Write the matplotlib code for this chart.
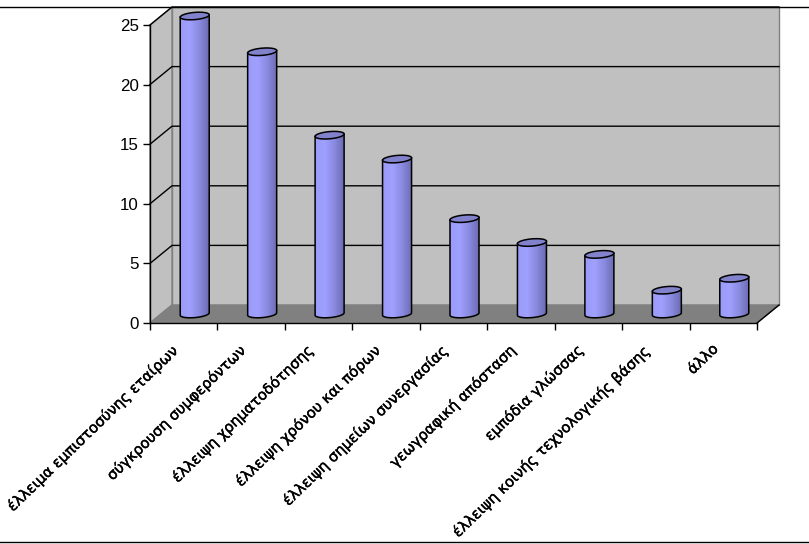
import numpy as np
import matplotlib
matplotlib.use('Agg')
import matplotlib.pyplot as plt
import matplotlib.patheffects as pe
from matplotlib.patches import Polygon

categories = ['έλλειμα εμπιστοσύνης εταίρων', 'σύγκρουση συμφερόντων', 'έλλειψη χρηματοδότησης',
              'έλλειψη χρόνου και πόρων', 'έλλειψη σημείων συνεργασίας', 'γεωγραφική απόσταση',
              'εμπόδια γλώσσας', 'έλλειψη κοινής τεχνολογικής βάσης', 'άλλο']
values = [25, 22, 15, 13, 8, 6, 5, 2, 3]
yticks = [0, 5, 10, 15, 20, 25]

W, H = 809, 544
fig = plt.figure(figsize=(W / 100, H / 100), dpi=100)
# front plane of the fake 3d box, in pixels: x 150-757, y 25-323
ax = fig.add_axes([150 / W, 1 - 323 / H, 607 / W, 298 / H])
ax.set_xlim(0, 9)
ax.set_ylim(0, 25)
for s in ax.spines.values():
    s.set_visible(False)
ax.patch.set_visible(False)


def px_x(p):
    return p * 9 / 607


def px_y(p):
    return p * 25 / 298


# depth of the box in data units
dx = px_x(22)
dy = px_y(18)

# walls
ax.add_patch(Polygon([(dx, dy), (9 + dx, dy), (9 + dx, 25 + dy), (dx, 25 + dy)], fc='#c0c0c0', ec='#808080', lw=1, clip_on=False, zorder=1))
ax.add_patch(Polygon([(0, 0), (dx, dy), (dx, 25 + dy), (0, 25)], fc='#c0c0c0', ec='#808080', lw=1, clip_on=False, zorder=1))
ax.add_patch(Polygon([(0, 0), (9, 0), (9 + dx, dy), (dx, dy)], fc='#808080', ec='#808080', lw=1, clip_on=False, zorder=2))

# gridlines
for t in yticks[1:]:
    ax.plot([0, dx, 9 + dx], [t, t + dy, t + dy], color='black', lw=1, clip_on=False, zorder=2.5)
ax.plot([0, 0], [0, 25], color='black', lw=1, clip_on=False, zorder=3)
ax.plot([0, 9], [0, 0], color='black', lw=1, clip_on=False, zorder=3)
ax.plot([9, 9 + dx], [0, dy], color='black', lw=1, clip_on=False, zorder=3)

# cylinders, the end ellipses lean up to the right a little
half_w = px_x(14.5)
eh = px_y(3.6)
tilt = px_y(1.2)
cmap = matplotlib.colors.LinearSegmentedColormap.from_list('cyl', ['#9a9af8', '#a0a0ff', '#8a8ae0', '#6c6cb4'])
grad = np.linspace(0, 1, 64).reshape(1, -1)


def rim(cx, cy, ts):
    return [(cx + half_w * np.cos(t), cy + eh * np.sin(t) + tilt * np.cos(t)) for t in ts]


for i, v in enumerate(values):
    cx = i + 0.5 + dx / 2
    base = dy / 2
    top = v + dy / 2
    ts_low = np.linspace(np.pi, 2 * np.pi, 40)
    outline = rim(cx, base, ts_low) + rim(cx, top, ts_low[::-1][:1]) + rim(cx, top, ts_low[:1])
    im = ax.imshow(grad, extent=[cx - half_w, cx + half_w, base - 2 * eh, top + tilt], cmap=cmap, aspect='auto', zorder=4)
    body = Polygon(outline, closed=True, fc='none', ec='black', lw=1.1, clip_on=False, zorder=5)
    ax.add_patch(body)
    im.set_clip_box(fig.bbox)
    im.set_clip_path(body)
    ax.add_patch(Polygon(rim(cx, top, np.linspace(0, 2 * np.pi, 60)), closed=True, fc='#8282cc', ec='black', lw=1.1, clip_on=False, zorder=6))

ax.set_xticks(range(10))
ax.set_xticklabels([])
ax.set_yticks(yticks)
ax.tick_params(axis='both', length=5, width=1, color='black', direction='out')
ax.tick_params(axis='y', labelsize=12.2, pad=3)
for lab in ax.get_yticklabels():
    lab.set_fontfamily('Liberation Sans')
ax.set_xlim(0, 9)
ax.set_ylim(0, 25)

# rotated category labels
for i, name in enumerate(categories):
    t = ax.annotate(name, xy=(i + 0.5, 0), xytext=(-9, -13), textcoords='offset points', rotation=44,
                    rotation_mode='anchor', ha='right', va='top', fontsize=10.6, family='DejaVu Sans', clip_on=False)
    t.set_path_effects([pe.withStroke(linewidth=0.3, foreground='black')])

# chart-area border lines
fig.add_artist(plt.Line2D([0, 1], [1 - 6.5 / H] * 2, color='black', lw=1))
fig.add_artist(plt.Line2D([0, 1], [1 - 541.5 / H] * 2, color='black', lw=1))

fig.savefig('out.png', dpi=100)
